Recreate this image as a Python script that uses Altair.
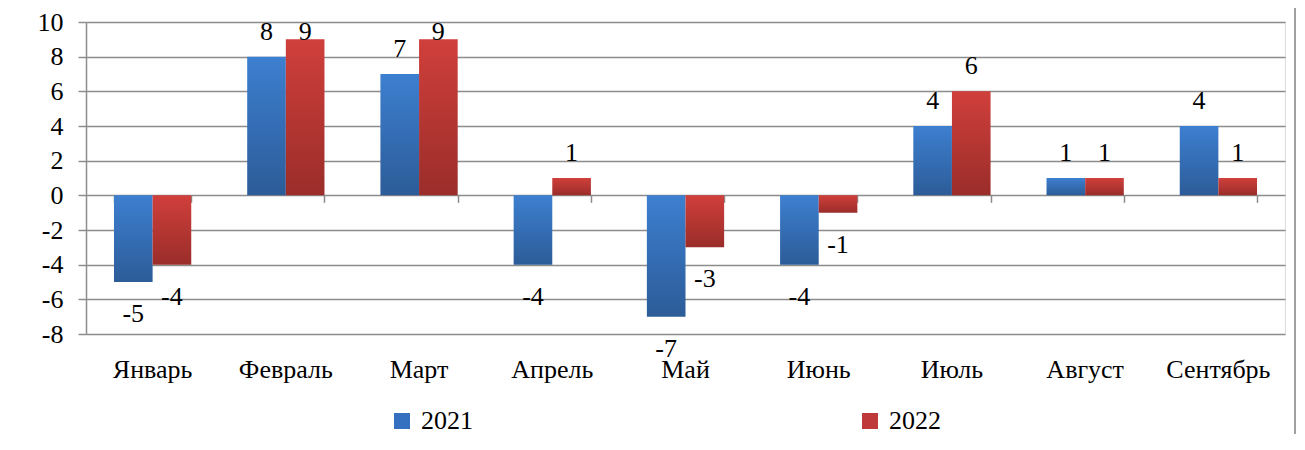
import altair as alt
import pandas as pd

months = ["Январь", "Февраль", "Март", "Апрель", "Май", "Июнь", "Июль", "Август", "Сентябрь"]
years = ["2021", "2022"]
v2021 = [-5, 8, 7, -4, -7, -4, 4, 1, 4]
v2022 = [-4, 9, 9, 1, -3, -1, 6, 1, 1]
y_ticks = [-8, -6, -4, -2, 0, 2, 4, 6, 8, 10]

rows = []
for m, a, b in zip(months, v2021, v2022):
    rows.append({"month": m, "year": "2021", "value": a, "label": str(a)})
    rows.append({"month": m, "year": "2022", "value": b, "label": str(b)})
df = pd.DataFrame(rows)
mdf = pd.DataFrame({"month": months})

FONT = "'Liberation Serif', 'Times New Roman', serif"
FS = 26
GRID = "#8c8c8c"
W, H = 1199, 312
YMIN, YMAX = -8, 10

blue_grad = alt.Gradient(gradient="linear", x1=0, y1=0, x2=0, y2=1,
                         stops=[alt.GradientStop(color="#3d7fd0", offset=0),
                                alt.GradientStop(color="#2c5c98", offset=1)])
red_grad = alt.Gradient(gradient="linear", x1=0, y1=0, x2=0, y2=1,
                        stops=[alt.GradientStop(color="#d03f3b", offset=0),
                               alt.GradientStop(color="#9a2d2a", offset=1)])

xscale = alt.Scale(paddingInner=0.42, paddingOuter=0.21)
# x axis sits on the zero line: only band-boundary ticks, labels drawn as text
x_axis = alt.Axis(title=None, domain=False, labels=False, grid=False,
                  ticks=True, tickBand="extent", tickColor=GRID, tickWidth=1.5,
                  tickSize=7, offset=-H * (-YMIN) / (YMAX - YMIN))
x_enc = alt.X("month:N", sort=months, scale=xscale, axis=x_axis)

yscale = alt.Scale(domain=[YMIN, YMAX], nice=False)
y_axis = alt.Axis(title=None, values=y_ticks, grid=True, gridColor=GRID,
                  gridWidth=1.5, tickColor=GRID, tickWidth=1.5, tickSize=8,
                  domainColor=GRID, domainWidth=1.5, labelFont=FONT,
                  labelFontSize=FS, labelColor="black", labelPadding=15,
                  labelOverlap=False,
                  labelExpr="replace(datum.label, '\u2212', '-')")
y_enc = alt.Y("value:Q", scale=yscale, axis=y_axis)
y_lab = alt.Y("ly:Q", scale=yscale, axis=y_axis)
xo = alt.XOffset("year:N", sort=years, scale=alt.Scale(paddingInner=0, paddingOuter=0))

base = alt.Chart(df)

bars21 = base.transform_filter(alt.datum.year == "2021").mark_bar(fill=blue_grad).encode(
    x=x_enc, y=y_enc, y2=alt.datum(0), xOffset=xo)
bars22 = base.transform_filter(alt.datum.year == "2022").mark_bar(fill=red_grad).encode(
    x=x_enc, y=y_enc, y2=alt.datum(0), xOffset=xo)

month_labels = alt.Chart(mdf).transform_calculate(ly=str(YMIN)).mark_text(
    font=FONT, fontSize=FS, color="black", baseline="alphabetic", dy=44).encode(
    x=x_enc, y=y_lab, text="month:N")

legend_layer = base.mark_square(opacity=0).encode(
    x=x_enc, y=y_enc, xOffset=xo,
    color=alt.Color("year:N", sort=years,
                    scale=alt.Scale(domain=years, range=["#3570c0", "#c0393a"]),
                    legend=alt.Legend(title=None, orient="none", legendX=303, legendY=386,
                                      direction="horizontal", symbolType="square",
                                      symbolSize=256, symbolOpacity=1, symbolStrokeWidth=0,
                                      labelFont=FONT, labelFontSize=FS, labelColor="black",
                                      labelOffset=6, columnPadding=384, padding=0)))

pos_labels = base.transform_filter(alt.datum.value > 0).transform_calculate(
    ly="min(datum.value, 8)").mark_text(
    font=FONT, fontSize=FS, color="black", baseline="alphabetic", dy=-17).encode(
    x=x_enc, y=y_lab, xOffset=xo, text="label:N")
neg_labels = base.transform_filter(alt.datum.value < 0).transform_calculate(
    ly="datum.value").mark_text(
    font=FONT, fontSize=FS, color="black", baseline="alphabetic", dy=40).encode(
    x=x_enc, y=y_lab, xOffset=xo, text="label:N")

frame = alt.Chart(alt.Data(values=[{"a": 1}])).mark_rect(
    fill="transparent", stroke="#a0a0a0", strokeWidth=2).encode(
    x=alt.value(-80), x2=alt.value(1209), y=alt.value(-17), y2=alt.value(460))

chart = alt.layer(frame, bars21, bars22, month_labels, legend_layer, pos_labels, neg_labels).properties(
    width=W, height=H,
    autosize=alt.AutoSizeParams(type="none"),
    padding={"left": 78, "top": 14, "right": 12, "bottom": 100},
).configure_view(stroke=None).configure(background="white")

chart.save("out.html", embed_options={"renderer": "svg", "actions": False})
